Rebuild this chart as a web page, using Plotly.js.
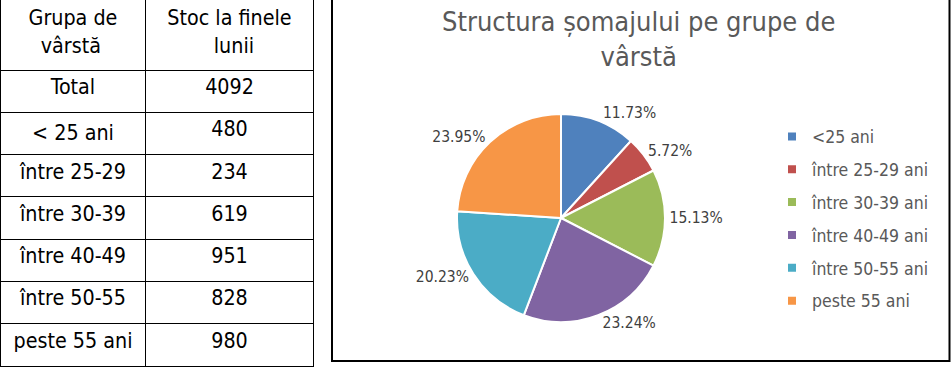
<!DOCTYPE html>
<html><head><meta charset="utf-8">
<script src="https://cdn.plot.ly/plotly-3.0.1.min.js"></script>
<style>html,body{margin:0;padding:0;overflow:hidden;background:#fff;width:951px;height:369px}
#chart{position:absolute;left:0;top:-3px;width:951px;height:372px}</style>
</head><body><div id="chart"></div>
<script>
// ---- data ----
const tableGroups = ["Total", "< 25 ani", "între 25-29", "între 30-39", "între 40-49", "între 50-55", "peste 55 ani"];
const ageLabels = ["<25 ani", "între 25-29 ani", "între 30-39 ani", "între 40-49 ani", "între 50-55 ani", "peste 55 ani"];
const stock = [480, 234, 619, 951, 828, 980];
const total = 4092;
const headerLabels = ["Grupa de<br>\u00a0\u00a0vârstă", "Stoc la finele<br>\u00a0\u00a0\u00a0\u00a0\u00a0\u00a0\u00a0\u2009lunii"];
const colors = ["#4F81BD", "#C0504D", "#9BBB59", "#8064A2", "#4BACC6", "#F79646"];
const chartTitle = "Structura șomajului pe grupe de<br>vârstă";

const W = 951, H = 372;
const FONT = "'DejaVu Sans Condensed', 'DejaVu Sans', sans-serif";
const px = x => x / W;
const py = y => 1 - (y + 3) / H;   // page y -> paper y

const traces = [];
traces.push({
  type: "table",
  domain: {x: [px(0.5), px(313.5)], y: [0, 1]},
  columnwidth: [145, 168],
  header: {
    values: headerLabels,
    align: "center", height: 73,
    line: {color: "#000", width: 1},
    fill: {color: "#fff"},
    font: {family: FONT, size: 21.3, color: "#000"}
  },
  cells: {
    values: [tableGroups, [total].concat(stock)],
    align: "center", height: 42.3,
    line: {color: "#000", width: 1},
    fill: {color: "#fff"},
    font: {family: FONT, size: 21.3, color: "#000"}
  }
});
traces.push({
  type: "pie",
  labels: ageLabels, values: stock,
  sort: false, direction: "clockwise", rotation: 0,
  marker: {colors: colors, line: {color: "#fff", width: 2}},
  texttemplate: "%{percent:.2%}",
  textposition: "outside",
  outsidetextfont: {family: FONT, size: 15.5, color: "#404040"},
  domain: {x: [px(457), px(665)], y: [py(322), py(114)]},
  showlegend: false, hoverinfo: "none"
});
ageLabels.forEach((lab, i) => {
  traces.push({
    type: "scatter", mode: "markers", x: [null], y: [null],
    name: lab, legendgroup: "g" + i,
    marker: {symbol: "square", size: 8, color: colors[i]},
    showlegend: true, hoverinfo: "none"
  });
});

const layout = {
  width: W, height: H,
  margin: {l: 0, r: 0, t: 0, b: 0},
  paper_bgcolor: "#fff", plot_bgcolor: "rgba(0,0,0,0)",
  font: {family: FONT},
  annotations: [{
    text: chartTitle, xref: "paper", yref: "paper",
    x: px(638), xanchor: "center", y: py(4), yanchor: "top",
    align: "center", showarrow: false,
    font: {family: FONT, size: 27, color: "#595959"}
  }],
  xaxis: {visible: false, domain: [0.99, 1]},
  yaxis: {visible: false, domain: [0.99, 1]},
  showlegend: true,
  legend: {
    x: px(772), xanchor: "left", y: py(118.5), yanchor: "top",
    traceorder: "grouped", tracegroupgap: 7.1,
    bgcolor: "rgba(0,0,0,0)",
    font: {family: FONT, size: 17.5, color: "#595959"}
  },
  shapes: [{
    type: "rect", xref: "paper", yref: "paper",
    x0: px(332), x1: px(949.5), y0: py(361), y1: py(-10),
    line: {color: "#000", width: 2}
  }]
};
Plotly.newPlot("chart", traces, layout, {staticPlot: true, displayModeBar: false});
</script></body></html>
